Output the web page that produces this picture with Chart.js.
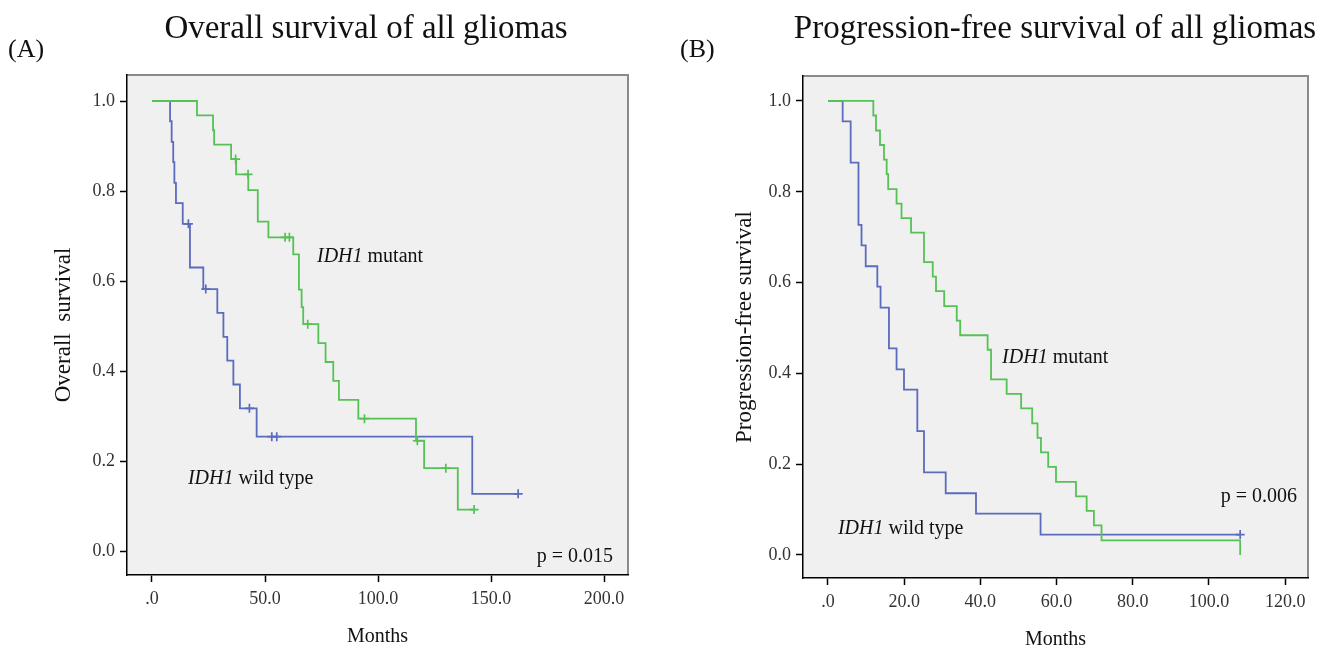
<!DOCTYPE html>
<html>
<head>
<meta charset="utf-8">
<script src="https://cdn.jsdelivr.net/npm/chart.js@4.4.1/dist/chart.umd.min.js"></script>
<style>
  html, body { margin: 0; padding: 0; background: #fff; }
  #wrap { position: relative; width: 1330px; height: 655px; }
  .panel { position: absolute; top: 0; width: 665px; height: 655px; }
</style>
</head>
<body>
<div id="wrap">
  <div class="panel" style="left:0"><canvas id="osChart" width="665" height="655"></canvas></div>
  <div class="panel" style="left:665px"><canvas id="pfsChart" width="665" height="655"></canvas></div>
</div>
<script>
// Overall survival (A) - Kaplan-Meier steps
const osMutTime = [0, 19.9, 27.0, 27.5, 35.0, 37.2, 42.6, 46.8, 51.5, 62.5, 65.0, 66.2, 66.9, 73.6, 76.8, 80.2, 82.7, 91.3, 116.8, 120.4, 135.3, 142.5];
const osMutSurv = [1, 0.968, 0.935, 0.903, 0.871, 0.837, 0.802, 0.732, 0.697, 0.659, 0.581, 0.542, 0.504, 0.462, 0.420, 0.378, 0.336, 0.294, 0.245, 0.184, 0.092, 0.092];
const osMutCensTime = [37.0, 42.5, 58.9, 60.8, 68.9, 94.0, 117.4, 130.0, 142.5];
const osMutCensSurv = [0.871, 0.837, 0.697, 0.697, 0.504, 0.294, 0.245, 0.184, 0.092];

const osWtTime = [0, 8.0, 8.7, 9.4, 9.9, 10.6, 13.6, 16.8, 22.7, 28.9, 31.6, 33.3, 36.0, 38.9, 46.3, 141.7, 162.0];
const osWtSurv = [1, 0.955, 0.909, 0.864, 0.818, 0.773, 0.727, 0.630, 0.582, 0.529, 0.476, 0.423, 0.370, 0.317, 0.254, 0.127, 0.127];
const osWtCensTime = [16.1, 23.8, 43.1, 53.0, 55.2, 162.0];
const osWtCensSurv = [0.727, 0.582, 0.317, 0.254, 0.254, 0.127];

// Progression-free survival (B)
const pfsMutTime = [0, 11.9, 12.6, 13.65, 14.7, 15.4, 15.8, 18.0, 19.3, 21.8, 25.2, 27.5, 28.35, 30.5, 33.8, 34.7, 41.9, 42.8, 46.9, 50.7, 53.6, 55.0, 55.9, 57.8, 59.85, 65.1, 67.9, 69.8, 71.8, 108.2];
const pfsMutSurv = [1, 0.968, 0.935, 0.903, 0.871, 0.839, 0.806, 0.774, 0.742, 0.710, 0.645, 0.613, 0.581, 0.548, 0.516, 0.484, 0.452, 0.387, 0.355, 0.323, 0.290, 0.258, 0.226, 0.194, 0.161, 0.129, 0.097, 0.065, 0.032, 0];

const pfsWtTime = [0, 3.85, 5.95, 8.0, 8.8, 9.9, 12.95, 13.8, 16.0, 18.0, 19.95, 23.45, 25.2, 30.9, 38.85, 55.8, 108.2];
const pfsWtSurv = [1, 0.955, 0.864, 0.727, 0.682, 0.636, 0.591, 0.545, 0.455, 0.409, 0.364, 0.273, 0.182, 0.136, 0.091, 0.045, 0.045];
const pfsWtCensTime = [108.2];
const pfsWtCensSurv = [0.045];

// Ticks
const osMonthTicks = [0, 50, 100, 150, 200];
const osMonthLabels = ['.0', '50.0', '100.0', '150.0', '200.0'];
const pfsMonthTicks = [0, 20, 40, 60, 80, 100, 120];
const pfsMonthLabels = ['.0', '20.0', '40.0', '60.0', '80.0', '100.0', '120.0'];
const survTicks = [0, 0.2, 0.4, 0.6, 0.8, 1.0];
const survLabels = ['0.0', '0.2', '0.4', '0.6', '0.8', '1.0'];

const colors = {
    mutant: '#55c255',
    wild: '#5b6bbd',
    plotBg: '#f0f0f0',
    frame: '#8a8a8a',
    text: '#111111',
    tick: '#333333'
};
const serif = "'Liberation Serif', 'Times New Roman', serif";

function pts(xs, ys) {
    return xs.map((v, i) => ({ x: v, y: ys[i] }));
}

// fondo gris del area de trazado + marco superior/derecho
const plotFrame = {
    id: 'plotFrame',
    beforeDraw(chart) {
        const { ctx, chartArea: a } = chart;
        ctx.save();
        ctx.fillStyle = colors.plotBg;
        ctx.fillRect(a.left, a.top, a.right - a.left, a.bottom - a.top);
        ctx.strokeStyle = colors.frame;
        ctx.lineWidth = 2;
        ctx.beginPath();
        ctx.moveTo(a.left, a.top);
        ctx.lineTo(a.right, a.top);
        ctx.lineTo(a.right, a.bottom);
        ctx.stroke();
        ctx.restore();
    }
};

// titulos, letra del panel y anotaciones
const panelText = {
    id: 'panelText',
    afterDraw(chart, args, opts) {
        const ctx = chart.ctx;
        const xs = chart.scales.x, ys = chart.scales.y;
        ctx.save();
        ctx.fillStyle = colors.text;
        ctx.textBaseline = 'alphabetic';

        ctx.font = '33px ' + serif;
        ctx.textAlign = 'center';
        ctx.fillText(opts.title, opts.titleX, 38);

        ctx.font = '26px ' + serif;
        ctx.textAlign = 'left';
        ctx.fillText(opts.letter, opts.letterX, 57);

        opts.notes.forEach(n => {
            let px = xs.getPixelForValue(n.x);
            const py = ys.getPixelForValue(n.y);
            if (n.align === 'right') {
                ctx.font = '20px ' + serif;
                ctx.textAlign = 'right';
                ctx.fillText(n.parts.map(p => p[0]).join(''), px, py);
                return;
            }
            ctx.textAlign = 'left';
            n.parts.forEach(([txt, italic]) => {
                ctx.font = (italic ? 'italic ' : '') + '20px ' + serif;
                ctx.fillText(txt, px, py);
                px += ctx.measureText(txt).width;
            });
        });
        ctx.restore();
    }
};

function kmChart(id, cfg) {
    const ctx = document.getElementById(id).getContext('2d');
    const line = (data, color) => ({
        type: 'line',
        data: data,
        borderColor: color,
        borderWidth: 1.8,
        stepped: true,
        pointRadius: 0,
        fill: false
    });
    const cens = (data, color) => ({
        type: 'scatter',
        data: data,
        borderColor: color,
        backgroundColor: color,
        borderWidth: 1.7,
        pointStyle: 'cross',
        pointRadius: 4.5,
        showLine: false
    });

    return new Chart(ctx, {
        type: 'line',
        data: {
            datasets: [
                line(cfg.mut, colors.mutant),
                cens(cfg.mutCens, colors.mutant),
                line(cfg.wt, colors.wild),
                cens(cfg.wtCens, colors.wild)
            ]
        },
        plugins: [plotFrame, panelText],
        options: {
            responsive: false,
            animation: false,
            devicePixelRatio: 1,
            layout: { padding: cfg.padding },
            plugins: {
                legend: { display: false },
                tooltip: { enabled: false },
                panelText: cfg.text
            },
            scales: {
                x: {
                    type: 'linear',
                    min: cfg.xMin,
                    max: cfg.xMax,
                    afterFit: s => { s.height = cfg.xHeight; },
                    afterBuildTicks: s => { s.ticks = cfg.xTicks.map(v => ({ value: v })); },
                    grid: { drawOnChartArea: false, drawTicks: true, tickLength: 7, tickWidth: 1.5, tickColor: '#000' },
                    border: { display: true, color: '#000', width: 1.5 },
                    ticks: {
                        padding: 6,
                        color: colors.tick,
                        font: { family: serif, size: 18 },
                        callback: (v, i) => cfg.xLabels[i]
                    },
                    title: {
                        display: true,
                        text: 'Months',
                        color: colors.text,
                        font: { family: serif, size: 20 },
                        padding: { top: 0, bottom: cfg.xTitlePad }
                    }
                },
                y: {
                    type: 'linear',
                    min: cfg.yMin,
                    max: cfg.yMax,
                    afterFit: s => { s.width = cfg.yWidth; },
                    afterBuildTicks: s => { s.ticks = survTicks.map(v => ({ value: v })); },
                    grid: { drawOnChartArea: false, drawTicks: true, tickLength: 7, tickWidth: 1.5, tickColor: '#000' },
                    border: { display: true, color: '#000', width: 1.5 },
                    ticks: {
                        padding: 5,
                        color: colors.tick,
                        font: { family: serif, size: 18 },
                        callback: (v, i) => survLabels[i]
                    },
                    title: {
                        display: true,
                        text: cfg.yTitle,
                        color: colors.text,
                        font: { family: serif, size: 23 },
                        padding: { top: cfg.yTitlePad, bottom: 0 }
                    }
                }
            }
        }
    });
}

kmChart('osChart', {
    mut: pts(osMutTime, osMutSurv),
    mutCens: pts(osMutCensTime, osMutCensSurv),
    wt: pts(osWtTime, osWtSurv),
    wtCens: pts(osWtCensTime, osWtCensSurv),
    xMin: -11.06, xMax: 210.6,
    yMin: -0.0533, yMax: 1.0578,
    xTicks: osMonthTicks, xLabels: osMonthLabels,
    padding: { left: 0, top: 75, right: 37, bottom: 0 },
    xHeight: 80, yWidth: 127,
    xTitlePad: 6, yTitlePad: 50,
    yTitle: 'Overall  survival',
    text: {
        title: 'Overall survival of all gliomas', titleX: 366,
        letter: '(A)', letterX: 8,
        notes: [
            { x: 73, y: 0.642, parts: [['IDH1', true], [' mutant', false]] },
            { x: 15.9, y: 0.149, parts: [['IDH1', true], [' wild type', false]] },
            { x: 204, y: -0.024, align: 'right', parts: [['p = 0.015', false]] }
        ]
    }
});

kmChart('pfsChart', {
    mut: pts(pfsMutTime, pfsMutSurv),
    mutCens: [],
    wt: pts(pfsWtTime, pfsWtSurv),
    wtCens: pts(pfsWtCensTime, pfsWtCensSurv),
    xMin: -6.56, xMax: 126.0,
    yMin: -0.0507, yMax: 1.055,
    xTicks: pfsMonthTicks, xLabels: pfsMonthLabels,
    padding: { left: 0, top: 76, right: 22, bottom: 0 },
    xHeight: 77, yWidth: 138,
    xTitlePad: 3, yTitlePad: 66,
    yTitle: 'Progression-free survival',
    text: {
        title: 'Progression-free survival of all gliomas', titleX: 390,
        letter: '(B)', letterX: 15,
        notes: [
            { x: 45.7, y: 0.423, parts: [['IDH1', true], [' mutant', false]] },
            { x: 2.6, y: 0.046, parts: [['IDH1', true], [' wild type', false]] },
            { x: 123.1, y: 0.117, align: 'right', parts: [['p = 0.006', false]] }
        ]
    }
});
</script>
</body>
</html>
